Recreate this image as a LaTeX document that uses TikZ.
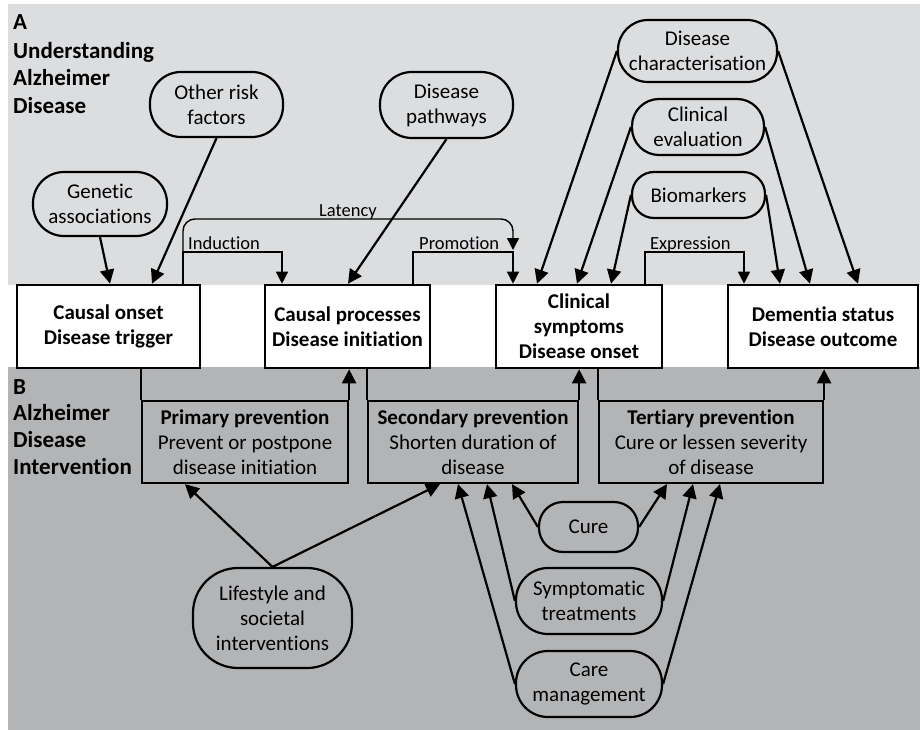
\documentclass[tikz,border=0pt]{standalone}
\usepackage{fontspec}
\setmainfont{Carlito}[Ligatures={NoCommon,NoContextual}]
\usetikzlibrary{arrows.meta}
\definecolor{bandtop}{RGB}{220,221,223}
\definecolor{bandbot}{RGB}{179,180,182}
\begin{document}
\begin{tikzpicture}[x=1pt,y=-1pt,
  every node/.style={font=\fontsize{21}{25}\selectfont, align=center, inner sep=0pt},
  stage/.style={draw, line width=2.6pt, fill=white, minimum height=83pt, font=\fontsize{21}{25}\selectfont\bfseries},
  prevbox/.style={draw, line width=2.2pt, minimum height=82pt},
  pill/.style={draw, line width=2.2pt, rounded corners=#1},
  link/.style={line width=2.2pt, -{Triangle[width=14pt,length=14pt]}},
  flow/.style={line width=1.4pt, -{Triangle[width=12pt,length=12pt]}},
  phase/.style={font=\fontsize{18.5}{22}\selectfont, inner sep=0pt},
  header/.style={font=\fontsize{23}{27.5}\selectfont\bfseries, anchor=base west}
]
\useasboundingbox (0,0) rectangle (920,730);

% background bands
\fill[bandtop] (8,4) rectangle (920,285);
\fill[bandbot] (8,367) rectangle (920,730);

% section headers
\node[header] (ha) at (13,30) {A};
\node[header] (ha1) at (13,59) {Understanding};
\node[header] (ha2) at (13,86) {Alzheimer};
\node[header] (ha3) at (13,114) {Disease};
\node[header] (hb) at (13,394) {B};
\node[header] (hb1) at (13,420) {Alzheimer};
\node[header] (hb2) at (13,447) {Disease};
\node[header] (hb3) at (13,474) {Intervention};

% disease stages
\node[stage, minimum width=183pt] (b1) at (108.5,326.5) {Causal onset\\Disease trigger};
\node[stage, minimum width=165pt] (b2) at (347.5,326.5) {Causal processes\\Disease initiation};
\node[stage, minimum width=166pt] (b3) at (579,326.5) {Clinical\\symptoms\\Disease onset};
\node[stage, minimum width=190pt] (b4) at (823,326.5) {Dementia status\\Disease outcome};

% prevention levels
\node[prevbox, minimum width=206pt] (prim) at (245,442) {\textbf{Primary prevention}\\Prevent or postpone\\disease initiation};
\node[prevbox, minimum width=210pt] (sec) at (473,442) {\textbf{Secondary prevention}\\Shorten duration of\\disease};
\node[prevbox, minimum width=224pt] (tert) at (711,442) {\textbf{Tertiary prevention}\\Cure or lessen severity\\of disease};

\draw[line width=2.2pt] (prim.north west |- b1.south) -- (prim.north west);
\draw[link] (prim.north east) -- (prim.north east |- b2.south);
\draw[line width=2.2pt] (sec.north west |- b2.south) -- (sec.north west);
\draw[link] (sec.north east) -- (sec.north east |- b3.south);
\draw[line width=2.2pt] (tert.north west |- b3.south) -- (tert.north west);
\draw[link] (tert.north east) -- (tert.north east |- b4.south);

% research inputs
\node[pill=31, minimum width=134pt, minimum height=64pt] (gen) at (100,204) {Genetic\\associations};
\node[pill=31, minimum width=133pt, minimum height=65pt] (risk) at (216.5,104.5) {Other risk\\factors};
\node[pill=32, minimum width=133pt, minimum height=66pt] (path) at (446.5,105) {Disease\\pathways};
\node[pill=30, minimum width=159pt, minimum height=62pt] (char) at (697.5,51) {Disease\\characterisation};
\node[pill=27, minimum width=132pt, minimum height=56pt] (eval) at (698,127) {Clinical\\evaluation};
\node[pill=22, minimum width=133pt, minimum height=46pt] (bio) at (698.5,195) {Biomarkers};

\draw[link] (gen.south) -- (110,0 |- b1.north);
\draw[link] (risk.south) -- (152,0 |- b1.north);
\draw[link] (path.south) -- (348,0 |- b2.north);
\draw[link] (char.west) -- (537,0 |- b3.north);
\draw[link] (eval.west) -- (577,0 |- b3.north);
\draw[link] (bio.west) -- (611,0 |- b3.north);
\draw[link] (char.east) -- (858,0 |- b4.north);
\draw[link] (eval.east) -- (810,0 |- b4.north);
\draw[link] (bio.east) -- (780,0 |- b4.north);

% phases between stages
\draw[flow, rounded corners=12pt] (183,0 |- b1.north) -- (183,219) -- (513,219) -- (513,250);
\draw[flow] (183,0 |- b1.north) |- (282,252) -- (282,0 |- b2.north);
\draw[flow] (413,0 |- b2.north) |- (513,252) -- (513,0 |- b3.north);
\draw[flow] (645,0 |- b3.north) |- (744,252) -- (744,0 |- b4.north);
\node[phase, anchor=base] (llat) at (348,216) {Latency};
\node[phase, anchor=base west] (lind) at (188,249) {Induction};
\node[phase, anchor=base west] (lpro) at (419,249) {Promotion};
\node[phase, anchor=base west] (lexp) at (650,249) {Expression};

% interventions
\node[pill=45, minimum width=159pt, minimum height=100pt] (life) at (272.5,618) {Lifestyle and\\societal\\interventions};
\node[pill=24, minimum width=99pt, minimum height=50pt] (cure) at (588.5,527) {Cure};
\node[pill=32, minimum width=146pt, minimum height=66pt] (symp) at (589,601) {Symptomatic\\treatments};
\node[pill=32, minimum width=146pt, minimum height=66pt] (care) at (589,684) {Care\\management};

\draw[link] (life.north) -- (185,0 |- prim.south);
\draw[link] (life.north) -- (440,0 |- sec.south);
\draw[link] (care.west) -- (458,0 |- sec.south);
\draw[link] (symp.west) -- (487,0 |- sec.south);
\draw[link] (cure.west) -- (512,0 |- sec.south);
\draw[link] (cure.east) -- (667,0 |- tert.south);
\draw[link] (symp.east) -- (693,0 |- tert.south);
\draw[link] (care.east) -- (720,0 |- tert.south);
\end{tikzpicture}
\end{document}
